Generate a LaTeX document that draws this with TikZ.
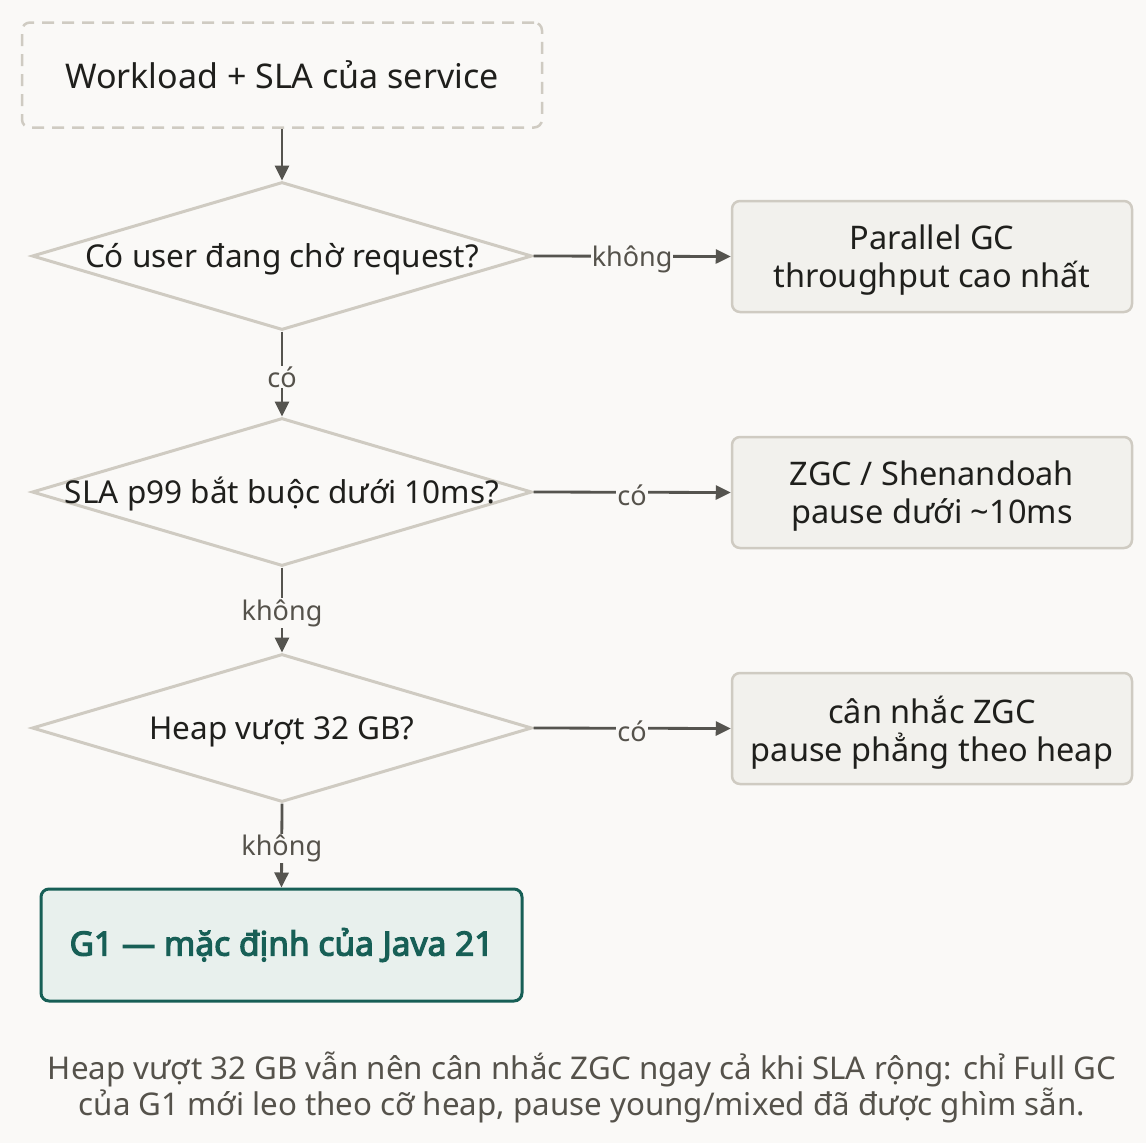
\documentclass[tikz,border=0pt]{standalone}
\usepackage{fontspec}
\setmainfont{Noto Sans}
\IfFontExistsTF{Noto Sans Bold}{\newfontfamily\boldfam{Noto Sans Bold}[FakeBold=1.2]}{\newfontfamily\boldfam{Noto Sans}[FakeBold=3.5]}
\usetikzlibrary{arrows.meta,shapes.geometric}
\definecolor{bgcol}{HTML}{FAF9F7}
\definecolor{edgecol}{HTML}{CFCBC2}
\definecolor{boxfill}{HTML}{F2F1ED}
\definecolor{arrowcol}{HTML}{55544F}
\definecolor{inkcol}{HTML}{1F1F1C}
\definecolor{labcol}{HTML}{55524B}
\definecolor{tealcol}{HTML}{175F56}
\definecolor{tealfill}{HTML}{E8F0ED}
\tikzset{
  startbox/.style={draw=edgecol, line width=2.5pt, dashed, dash pattern=on 12pt off 8pt, rounded corners=8pt, minimum width=520pt, minimum height=105pt, inner sep=0pt, text=inkcol, font=\fontsize{34}{38}\selectfont},
  dia/.style={diamond, draw=edgecol, line width=3pt, minimum width=500pt, minimum height=148pt, inner sep=0pt},
  diatext/.style={text=inkcol, font=\fontsize{31.5}{36}\selectfont, inner sep=0pt, anchor=base},
  outbox/.style={draw=edgecol, fill=boxfill, line width=2.5pt, rounded corners=8pt, minimum width=400pt, minimum height=111pt, align=center, text=inkcol, text depth=0pt, font=\fontsize{32.5}{38}\selectfont},
  endbox/.style={draw=tealcol, fill=tealfill, line width=3pt, rounded corners=8pt, minimum width=481pt, minimum height=112pt, text=tealcol, font=\fontsize{33.5}{38}\boldfam\selectfont},
  conn/.style={draw=arrowcol, line width=2.8pt, -{Triangle[length=15pt,width=14pt]}},
  lab/.style={fill=bgcol, text=labcol, font=\fontsize{27}{30}\selectfont, inner sep=1pt, yshift=-3pt},
  captext/.style={text=labcol, font=\fontsize{31.3}{36}\selectfont, align=center}
}
\begin{document}
\begin{tikzpicture}[x=1pt,y=-1pt]
\fill[bgcol] (0,0) rectangle (1146,1143);
\useasboundingbox (0,0) rectangle (1146,1143);

\node[startbox] (start) at (282,75) {Workload + SLA của service};

\node[dia] (d1) at (282,256) {};
\node[diatext] (t1) at ([yshift=-11pt]d1.center) {Có user đang chờ request?};
\node[dia] (d2) at (282,492) {};
\node[diatext] (t2) at ([yshift=-11pt]d2.center) {SLA p99 bắt buộc dưới 10ms?};
\node[dia] (d3) at (282,728) {};
\node[diatext] (t3) at ([yshift=-11pt]d3.center) {Heap vượt 32 GB?};

\node[outbox] (b1) at (932,256.5) {Parallel GC\\throughput cao nhất};
\node[outbox] (b2) at (932,492.5) {ZGC / Shenandoah\\pause dưới \textasciitilde10ms};
\node[outbox] (b3) at (932,728.5) {cân nhắc ZGC\\pause phẳng theo heap};

\node[endbox] (g1) at (281.5,945) {G1 — mặc định của Java 21};

\draw[conn] (start.south) -- (d1.north);
\draw[conn] (d1.east) -- node[lab] {không} (b1.west);
\draw[conn] (d1.south) -- node[lab] {có} (d2.north);
\draw[conn] (d2.east) -- node[lab] {có} (b2.west);
\draw[conn] (d2.south) -- node[lab] {không} (d3.north);
\draw[conn] (d3.east) -- node[lab] {có} (b3.west);
\draw[conn] (d3.south) -- node[lab] {không} (g1.north);

\node[captext] (caption) at (582,1087) {Heap vượt 32 GB vẫn nên cân nhắc ZGC ngay cả khi SLA rộng: chỉ Full GC\\của G1 mới leo theo cỡ heap, pause young/mixed đã được ghìm sẵn.};
\end{tikzpicture}
\end{document}
